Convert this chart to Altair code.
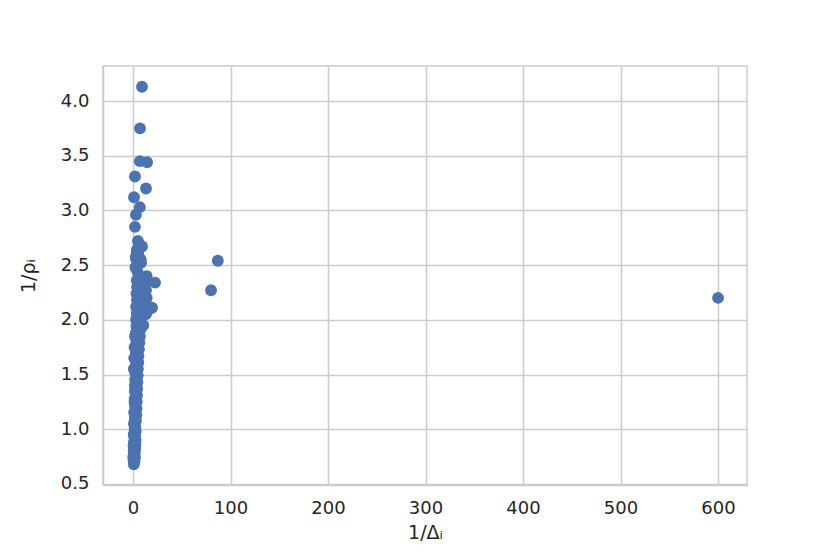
import altair as alt
import pandas as pd

# 1/Delta_i values
inv_delta = [
    0.8, 1.5, 0.4, 2.0, 1.0, 1.8, 0.6, 2.2, 1.2, 2.4, 0.9, 2.6, 1.5, 2.0, 1.1, 2.8, 1.7, 2.4,
    1.3, 3.0, 1.9, 3.4, 1.5, 3.6, 2.0, 3.8, 1.7, 4.0, 2.4, 4.3, 1.9, 4.5, 2.7, 4.8, 2.2, 5.0,
    2.8, 5.4, 2.5, 5.6, 3.0, 6.0, 2.6, 6.5, 3.2, 7.0, 2.9, 7.5, 3.5, 6.8, 3.1, 8.0, 3.8, 8.5,
    3.2, 9.0, 4.0, 10.0, 3.5, 11.0, 4.2, 12.0, 3.8, 14.0, 4.5, 2.5, 4.8, 3.0, 5.5, 4.0,
    0.3, 0.5, 0.7, 1.0, 1.2, 1.5, 1.8, 2.2, 0.8, 1.2, 1.6, 2.0, 10.5, 13.0, 15.0, 14.0, 11.5, 8.2,
    9.2, 7.2, 7.0, 14.4, 13.3, 2.0, 1.0, 7.0, 3.0, 2.0, 5.0, 9.2, 6.0, 4.0, 3.0, 8.0,
    22.6, 19.5, 13.3, 14.4, 11.0, 87.0, 80.0, 600.0,
]
# 1/rho_i values
inv_rho = [
    0.68, 0.70, 0.72, 0.74, 0.76, 0.78, 0.80, 0.82, 0.84, 0.86, 0.88, 0.90, 0.92, 0.94, 0.96, 0.98, 1.00, 1.02,
    1.05, 1.08, 1.10, 1.13, 1.16, 1.19, 1.22, 1.25, 1.28, 1.31, 1.34, 1.37, 1.40, 1.43, 1.46, 1.49, 1.52, 1.55,
    1.58, 1.61, 1.64, 1.67, 1.70, 1.73, 1.76, 1.79, 1.82, 1.85, 1.88, 1.91, 1.94, 1.97, 2.00, 2.03, 2.06, 2.09,
    2.12, 2.15, 2.18, 2.21, 2.24, 2.27, 2.30, 2.33, 2.36, 2.40, 2.44, 2.48, 2.52, 2.56, 2.60, 2.64,
    0.75, 0.85, 0.95, 1.05, 1.15, 1.25, 1.35, 1.45, 1.55, 1.65, 1.75, 1.85, 1.95, 2.05, 2.08, 2.20, 2.26, 2.52,
    4.13, 3.75, 3.45, 3.44, 3.20, 3.31, 3.12, 3.03, 2.96, 2.85, 2.72, 2.67, 2.68, 2.62, 2.58, 2.55,
    2.34, 2.11, 2.27, 2.13, 2.06, 2.54, 2.27, 2.20,
]

df = pd.DataFrame({"x": inv_delta, "y": inv_rho})

font = "DejaVu Sans"
chart = (
    alt.Chart(df)
    .mark_circle(size=140, color="#4c72b0", opacity=1)
    .encode(
        x=alt.X("x:Q", title="1/Δᵢ",
                scale=alt.Scale(domain=[-30.8, 629.7], nice=False, zero=False),
                axis=alt.Axis(values=[0, 100, 200, 300, 400, 500, 600], format="d")),
        y=alt.Y("y:Q", title="1/ρᵢ",
                scale=alt.Scale(domain=[0.49, 4.32], nice=False, zero=False),
                axis=alt.Axis(values=[0.5, 1.0, 1.5, 2.0, 2.5, 3.0, 3.5, 4.0], format=".1f")),
    )
    .properties(
        width=644, height=419,
        autosize=alt.AutoSizeParams(type="none"),
        padding={"left": 95, "top": 58, "right": 20, "bottom": 60},
        background="white",
    )
    .configure_view(stroke="#cccccc", strokeWidth=1.5)
    .configure_axis(
        grid=True, gridColor="#cccccc", gridWidth=1.5,
        domainColor="#cccccc", domainWidth=1.5,
        ticks=False,
        labelFont=font, labelFontSize=18, labelColor="#262626",
        titleFont=font, titleFontSize=19, titleColor="#262626", titleFontWeight="normal",
    )
    .configure_axisX(labelPadding=14, titlePadding=6)
    .configure_axisY(labelPadding=14, titlePadding=22)
)

chart.save("out.html", embed_options={"renderer": "svg", "actions": False})
